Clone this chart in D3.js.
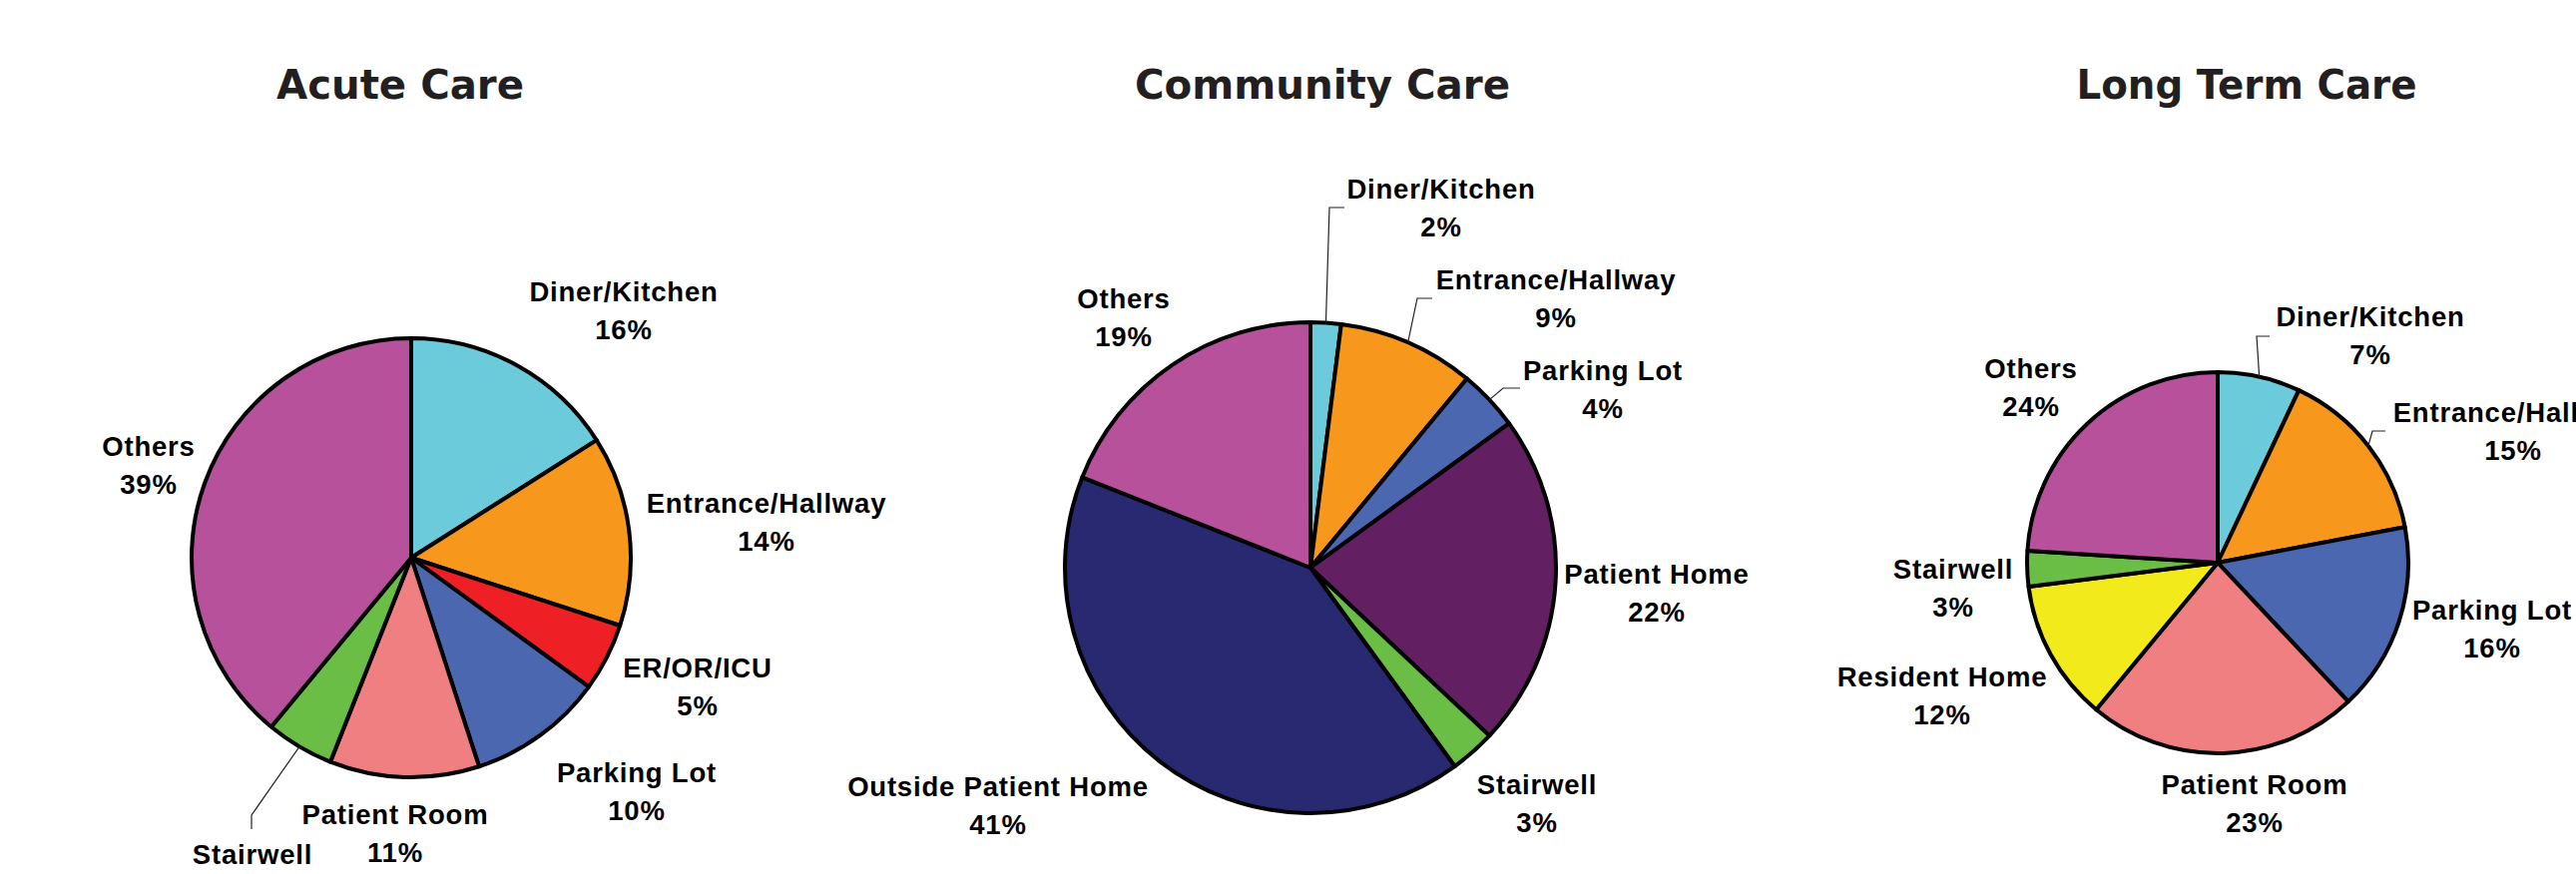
<!DOCTYPE html>
<html>
<head>
<meta charset="utf-8">
<script src="https://cdn.jsdelivr.net/npm/d3@7"></script>
<style>
  html, body { margin: 0; padding: 0; background: #fff; }
  svg { display: block; }
  .title { font-family: "DejaVu Sans", sans-serif; font-weight: bold; fill: #231f20; }
  .label { font-family: "Liberation Sans", Arial, sans-serif; font-weight: bold; fill: #000; letter-spacing: 0.8px; }
</style>
</head>
<body>
<svg id="viz" width="2581" height="876"></svg>
<script>
// === DATA ===
const chartTitles = ["Acute Care", "Community Care", "Long Term Care"];

const acuteLabels = ["Diner/Kitchen", "Entrance/Hallway", "ER/OR/ICU", "Parking Lot", "Patient Room", "Stairwell", "Others"];
const acuteValues = [16, 14, 5, 10, 11, 5, 39];

const communityLabels = ["Diner/Kitchen", "Entrance/Hallway", "Parking Lot", "Patient Home", "Stairwell", "Outside Patient Home", "Others"];
const communityValues = [2, 9, 4, 22, 3, 41, 19];

const longTermLabels = ["Diner/Kitchen", "Entrance/Hallway", "Parking Lot", "Patient Room", "Resident Home", "Stairwell", "Others"];
const longTermValues = [7, 15, 16, 23, 12, 3, 24];

const categories = ["Diner/Kitchen", "Entrance/Hallway", "ER/OR/ICU", "Parking Lot", "Patient Room",
  "Stairwell", "Others", "Patient Home", "Outside Patient Home", "Resident Home"];
const categoryColors = ["#6ccbda", "#f7981d", "#ee1f25", "#4a67b0", "#f07f82",
  "#6abd45", "#b8519b", "#621f61", "#292971", "#f2ea1a"];

// === LAYOUT ===
// label anchor = [center x, first baseline]; leaders = elbow points after the pie edge
const layout = [
  {
    cx: 412, cy: 559, r: 220, titleX: 401, titleW: 248,
    labelPos: {
      "Diner/Kitchen": [625, 302], "Entrance/Hallway": [768, 514], "ER/OR/ICU": [699, 679],
      "Parking Lot": [638, 784], "Patient Room": [396, 826], "Stairwell": [253, 866], "Others": [149, 457]
    },
    leaders: { "Stairwell": [[252, 817], [252, 831]] }
  },
  {
    cx: 1313, cy: 569, r: 246, titleX: 1325, titleW: 376,
    labelPos: {
      "Diner/Kitchen": [1444, 199], "Entrance/Hallway": [1559, 290], "Parking Lot": [1606, 381],
      "Patient Home": [1660, 585], "Stairwell": [1540, 796], "Outside Patient Home": [1000, 798], "Others": [1126, 309]
    },
    leaders: {
      "Diner/Kitchen": [[1332, 208], [1347, 208]],
      "Entrance/Hallway": [[1420, 299], [1435, 299]],
      "Parking Lot": [[1506, 389], [1523, 389]]
    }
  },
  {
    cx: 2222, cy: 564, r: 191, titleX: 2251, titleW: 341,
    labelPos: {
      "Diner/Kitchen": [2375, 327], "Entrance/Hallway": [2518, 423], "Parking Lot": [2497, 621],
      "Patient Room": [2259, 796], "Resident Home": [1946, 688], "Stairwell": [1957, 580], "Others": [2035, 379]
    },
    leaders: {
      "Diner/Kitchen": [[2261, 337], [2274, 337]],
      "Entrance/Hallway": [[2377, 432], [2390, 432]]
    }
  }
];

const titleBaseline = 99;
const lineGap = 38;

const color = d3.scaleOrdinal().domain(categories).range(categoryColors);

const svg = d3.select("#viz");

const datasets = [
  { labels: acuteLabels, values: acuteValues },
  { labels: communityLabels, values: communityValues },
  { labels: longTermLabels, values: longTermValues }
];

const pie = d3.pie().sort(null).value(d => d.value);

datasets.forEach((ds, i) => {
  const L = layout[i];
  const rows = ds.labels.map((name, k) => ({ name, value: ds.values[k] }));
  const total = d3.sum(rows, d => d.value);
  const arcs = pie(rows);
  const arc = d3.arc().innerRadius(0).outerRadius(L.r);

  // title
  svg.append("text")
    .attr("class", "title")
    .attr("x", L.titleX)
    .attr("y", titleBaseline)
    .attr("text-anchor", "middle")
    .attr("font-size", 40)
    .attr("textLength", L.titleW)
    .attr("lengthAdjust", "spacingAndGlyphs")
    .text(chartTitles[i]);

  // slices
  const g = svg.append("g").attr("transform", `translate(${L.cx},${L.cy})`);
  g.selectAll("path.slice")
    .data(arcs)
    .enter()
    .append("path")
    .attr("class", "slice")
    .attr("d", arc)
    .attr("fill", d => color(d.data.name))
    .attr("stroke", "#000")
    .attr("stroke-width", 4)
    .attr("stroke-linejoin", "round");

  // leader lines
  arcs.forEach(a => {
    const pts = L.leaders[a.data.name];
    if (!pts) return;
    const mid = (a.startAngle + a.endAngle) / 2;
    const start = [L.cx + L.r * Math.sin(mid), L.cy - L.r * Math.cos(mid)];
    svg.append("path")
      .attr("d", d3.line()([start, ...pts]))
      .attr("fill", "none")
      .attr("stroke", "#222")
      .attr("stroke-width", 1.2);
  });

  // labels
  arcs.forEach(a => {
    const p = L.labelPos[a.data.name];
    const t = svg.append("text")
      .attr("class", "label")
      .attr("text-anchor", "middle")
      .attr("font-size", 27.5);
    t.append("tspan").attr("x", p[0]).attr("y", p[1]).text(a.data.name);
    t.append("tspan").attr("x", p[0]).attr("y", p[1] + lineGap)
      .text(Math.round(a.data.value / total * 100) + "%");
  });
});
</script>
</body>
</html>
